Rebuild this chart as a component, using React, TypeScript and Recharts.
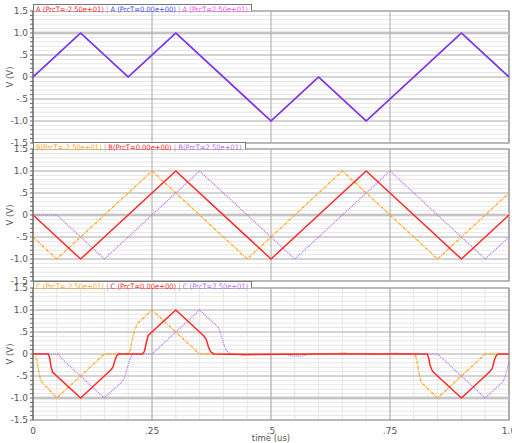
import React from 'react';
import { LineChart, Line, XAxis, YAxis, CartesianGrid, ReferenceLine, ReferenceArea } from 'recharts';

// x positions (us) and values (V)
const aLowT = [0, 0.1, 0.2, 0.3, 0.5, 0.6, 0.7, 0.9, 1.0];
const aLowV = [0, 1, 0, 1, -1, 0, -1, 1, 0];
const aNomT = [0, 0.1, 0.2, 0.3, 0.5, 0.6, 0.7, 0.9, 1.0];
const aNomV = [0, 1, 0, 1, -1, 0, -1, 1, 0];
const aHighT = [0, 0.1, 0.2, 0.3, 0.5, 0.6, 0.7, 0.9, 1.0];
const aHighV = [0, 1, 0, 1, -1, 0, -1, 1, 0];

const bLowT = [0, 0.05, 0.25, 0.45, 0.65, 0.85, 1.0];
const bLowV = [-0.5, -1, 1, -1, 1, -1, 0.5];
const bNomT = [0, 0.1, 0.3, 0.5, 0.7, 0.9, 1.0];
const bNomV = [0, -1, 1, -1, 1, -1, 0];
const bHighT = [0, 0.05, 0.15, 0.35, 0.55, 0.75, 0.95, 1.0];
const bHighV = [0, 0, -1, 1, -1, 1, -1, -0.5];

const cLowT = [0, 0.004, 0.008, 0.012, 0.016, 0.05, 0.14, 0.145, 0.15, 0.16, 0.2, 0.204, 0.208, 0.212, 0.216, 0.22, 0.25, 0.34, 0.345, 0.35, 0.36, 0.43, 0.445, 0.46, 0.6, 0.64, 0.65, 0.66, 0.7, 0.8, 0.804, 0.808, 0.812, 0.816, 0.85, 0.94, 0.945, 0.95, 0.96, 1.0];
const cLowV = [0, 0, -0.15, -0.4, -0.6, -1, -0.1, -0.04, -0.01, 0, 0, 0.08, 0.3, 0.5, 0.6, 0.7, 1, 0.1, 0.04, 0.01, 0, 0, -0.03, 0, 0, 0.01, 0.03, 0.01, 0, 0, -0.05, -0.25, -0.5, -0.65, -1, -0.1, -0.04, -0.01, 0, 0];
const cNomT = [0, 0.032, 0.035, 0.038, 0.041, 0.1, 0.163, 0.168, 0.172, 0.176, 0.18, 0.23, 0.234, 0.238, 0.242, 0.3, 0.359, 0.364, 0.369, 0.374, 0.38, 0.45, 0.6, 0.828, 0.831, 0.834, 0.838, 0.842, 0.9, 0.96, 0.965, 0.969, 0.973, 0.978, 1.0];
const cNomV = [0, 0, -0.08, -0.3, -0.41, -1, -0.37, -0.3, -0.15, -0.04, 0, 0, 0.06, 0.25, 0.42, 1, 0.41, 0.33, 0.15, 0.04, 0, -0.01, 0, 0, -0.08, -0.25, -0.36, -0.42, -1, -0.4, -0.32, -0.15, -0.04, 0, 0];
const cHighT = [0, 0.05, 0.055, 0.06, 0.15, 0.19, 0.195, 0.2, 0.205, 0.21, 0.25, 0.35, 0.39, 0.395, 0.4, 0.405, 0.412, 0.42, 0.53, 0.545, 0.565, 0.58, 0.74, 0.76, 0.78, 0.85, 0.86, 0.95, 0.988, 0.992, 0.996, 1.0];
const cHighV = [0, 0, -0.02, -0.1, -1, -0.6, -0.45, -0.25, -0.08, 0, 0, 1, 0.6, 0.45, 0.25, 0.1, 0.02, 0, 0, -0.05, -0.05, 0, 0, 0.02, 0, 0, -0.1, -1, -0.62, -0.5, -0.35, -0.2];

const xTicks = [0, 0.05, 0.1, 0.15, 0.2, 0.25, 0.3, 0.35, 0.4, 0.45, 0.5, 0.55, 0.6, 0.65, 0.7, 0.75, 0.8, 0.85, 0.9, 0.95, 1.0];
const xMajor = [0.25, 0.5, 0.75];
const yTicks = [-1.5, -1.4, -1.3, -1.2, -1.1, -1.0, -0.9, -0.8, -0.7, -0.6, -0.5, -0.4, -0.3, -0.2, -0.1, 0, 0.1, 0.2, 0.3, 0.4, 0.5, 0.6, 0.7, 0.8, 0.9, 1.0, 1.1, 1.2, 1.3, 1.4, 1.5];
const yMajor = [-1, -0.5, 0, 0.5, 1];

const RED = '#ff2a2a';
const ORANGE = '#ffa824';
const PURPLE = '#b56cf5';
const BLUE = '#4a4aff';
const MAGENTA = '#ff48ff';

const pts = (t: number[], v: number[]) => t.map((x, i) => ({ t: x, v: v[i] }));

const isMult = (v: number, step: number) => Math.abs(v / step - Math.round(v / step)) < 1e-6;

const fmtY = (v: number) => {
  if (!isMult(v, 0.5)) return '';
  if (Math.abs(v) < 1e-9) return '0';
  if (Math.abs(v) < 1) return (v < 0 ? '-' : '') + '.5';
  return v.toFixed(1);
};

const fmtX = (v: number) => {
  if (!isMult(v, 0.25)) return '';
  if (v === 0) return '0';
  if (Math.abs(v - 1) < 1e-9) return '1.0';
  return String(v).replace('0.', '.');
};

type Series = { t: number[]; v: number[]; color: string; width: number; dash?: string; name: string };

const panelA: Series[] = [
  { t: aLowT, v: aLowV, color: RED, width: 1.6, name: 'A (PrcT=-2.50e+01)' },
  { t: aHighT, v: aHighV, color: MAGENTA, width: 1.5, name: 'A (PrcT=2.50e+01)' },
  { t: aNomT, v: aNomV, color: BLUE, width: 1.2, name: 'A (PrcT=0.00e+00)' },
];
const legendA = [panelA[0], panelA[2], panelA[1]];

const panelB: Series[] = [
  { t: bLowT, v: bLowV, color: ORANGE, width: 1.3, dash: '3 1 1 1', name: 'B(PrcT=-2.50e+01)' },
  { t: bHighT, v: bHighV, color: PURPLE, width: 1.2, dash: '1 1', name: 'B(PrcT=2.50e+01)' },
  { t: bNomT, v: bNomV, color: RED, width: 1.5, name: 'B(PrcT=0.00e+00)' },
];
const legendB = [panelB[0], panelB[2], panelB[1]];

const panelC: Series[] = [
  { t: cLowT, v: cLowV, color: ORANGE, width: 1.3, dash: '3 1 1 1', name: 'C (PrcT=-2.50e+01)' },
  { t: cHighT, v: cHighV, color: PURPLE, width: 1.2, dash: '1 1', name: 'C (PrcT=2.50e+01)' },
  { t: cNomT, v: cNomV, color: RED, width: 1.5, name: 'C (PrcT=0.00e+00)' },
];
const legendC = [panelC[0], panelC[2], panelC[1]];

const FONT = 'DejaVu Sans, sans-serif';

function Legend({ items, top }: { items: Series[]; top: number }) {
  return (
    <div
      style={{
        position: 'absolute', left: 33, top, height: 6, border: '1px solid #777', borderBottom: 'none',
        background: '#fff', padding: '0 3px 0 2px', fontFamily: 'DejaVu Sans Condensed, DejaVu Sans, sans-serif',
        fontSize: 7.5, lineHeight: '9px', whiteSpace: 'nowrap', zIndex: 2,
      }}
    >
      {items.map((s, i) => (
        <span key={s.name}>
          {i > 0 && <span style={{ color: '#999' }}> | </span>}
          <span style={{ color: s.color }}>{s.name}</span>
        </span>
      ))}
    </div>
  );
}

function Panel({ series, band, top, bottomAxis }: { series: Series[]; band: number; top: number; bottomAxis: boolean }) {
  const height = bottomAxis ? 160 : 142;
  return (
    <div style={{ position: 'absolute', left: 0, top }}>
      <LineChart width={512} height={height} margin={{ top: 5, right: 3, bottom: bottomAxis ? 0 : 5, left: 0 }}>
        <CartesianGrid stroke="#e6e6e6" strokeWidth={1} />
        <XAxis
          type="number" dataKey="t" domain={[0, 1]} ticks={xTicks} interval={0}
          height={bottomAxis ? 23 : 0} tick={bottomAxis ? { fontSize: 9, fill: '#555', fontFamily: FONT } : false}
          tickFormatter={fmtX} tickLine={false} axisLine={false}
          label={bottomAxis ? { value: 'time (us)', position: 'insideBottom', offset: 2, style: { fontSize: 8.5, fill: '#555', fontFamily: FONT } } : undefined}
        />
        <YAxis
          type="number" domain={[-1.5, 1.5]} ticks={yTicks} interval={0} width={33}
          tick={{ fontSize: 9, fill: '#555', fontFamily: FONT }} tickFormatter={fmtY}
          tickSize={3} tickLine={{ stroke: '#666' }} axisLine={{ stroke: '#666' }}
          label={{ value: 'V (V)', angle: -90, position: 'insideLeft', offset: 10, style: { fontSize: 8.5, fill: '#555', fontFamily: FONT, textAnchor: 'middle' } }}
        />
        <ReferenceLine y={band} stroke="#d4d4d4" strokeWidth={3} />
        {yMajor.map((y) => (
          <ReferenceLine key={'y' + y} y={y} stroke="#b4b4b4" strokeWidth={1} />
        ))}
        {xMajor.map((x) => (
          <ReferenceLine key={'x' + x} x={x} stroke="#a8a8a8" strokeWidth={1} />
        ))}
        <ReferenceArea x1={0} x2={1} y1={-1.5} y2={1.5} fill="none" fillOpacity={0} stroke="#808080" strokeWidth={1.2} />
        {series.map((s) => (
          <Line
            key={s.name} data={pts(s.t, s.v)} dataKey="v" type="linear" stroke={s.color}
            strokeWidth={s.width} strokeDasharray={s.dash} dot={false} isAnimationActive={false}
          />
        ))}
      </LineChart>
    </div>
  );
}

export default function App() {
  return (
    <div style={{ position: 'absolute', left: 0, top: 0, width: 512, height: 443, background: '#fff', overflow: 'hidden' }}>
      <Panel series={panelA} band={1} top={6} bottomAxis={false} />
      <Panel series={panelB} band={0} top={144} bottomAxis={false} />
      <Panel series={panelC} band={-1} top={283} bottomAxis />
      <Legend items={legendA} top={4} />
      <Legend items={legendB} top={142} />
      <Legend items={legendC} top={281} />
    </div>
  );
}
